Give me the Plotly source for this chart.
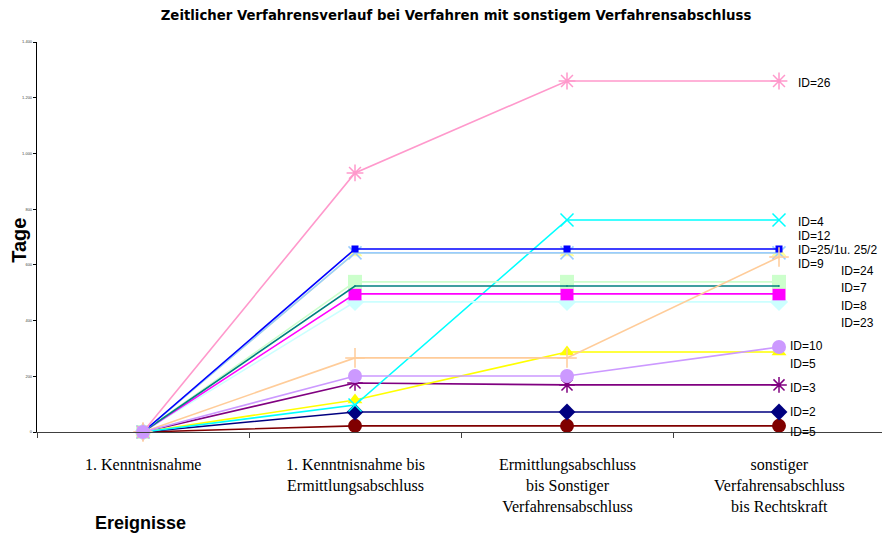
import plotly.graph_objects as go

categories = ["1. Kenntnisnahme",
              "1. Kenntnisnahme bis<br>Ermittlungsabschluss",
              "Ermittlungsabschluss<br>bis Sonstiger<br>Verfahrensabschluss",
              "sonstiger<br>Verfahrensabschluss<br>bis Rechtskraft"]

# series values (Tage)
id26 = [0, 930, 1260, 1260]
id4 = [0, 97, 761, 761]
id12 = [0, 657, 657, 657]
id25_1 = [0, 643, 643, 643]
id25_2 = [0, 643, 643, 643]
id9 = [0, 266, 266, 628]
id24 = [0, 539, 539, 539]
id7 = [0, 524, 524, 524]
id8 = [0, 496, 496, 496]
id23 = [0, 467, 467, 467]
id10 = [0, 201, 201, 305]
id5a = [0, 115, 287, 287]
id3 = [0, 176, 169, 169]
id2 = [0, 72, 72, 72]
id5b = [0, 22, 22, 22]

y_ticks = [0, 200, 400, 600, 800, 1000, 1200, 1400]
y_tick_labels = ["0", "200", "400", "600", "800", "1.000", "1.200", "1.400"]

# (values, color, symbol, size)
series = [
    (id5b, "#800000", "circle", 14),
    (id2, "#000080", "diamond", 13),
    (id3, "#800080", "asterisk-open", 13),
    (id5a, "#FFFF00", "triangle-up", 13),
    (id4, "#00FFFF", "x-thin-open", 13),
    (id23, "#CCFFFF", "diamond", 14),
    (id8, "#FF00FF", "square", 13),
    (id24, "#CCFFCC", "square", 14),
    (id7, "#008080", "line-ns-open", 1),
    (id25_2, "#FFFF99", "triangle-up", 13),
    (id25_1, "#99CCFF", "x-thin-open", 13),
    (id12, "#0000FF", "square", 7),
    (id26, "#FF99CC", "asterisk-open", 14),
    (id9, "#FFCC99", "cross-thin-open", 14),
    (id10, "#CC99FF", "circle", 14),
]

fig = go.Figure()
for vals, col, sym, sz in series:
    open_sym = sym.endswith("open")
    fig.add_trace(go.Scatter(
        x=[0, 1, 2, 3], y=vals, mode="lines+markers",
        line=dict(color=col, width=1.6),
        marker=dict(symbol=sym, size=sz, color=col,
                    line=dict(color=col, width=1.5 if open_sym else 0)),
        showlegend=False, cliponaxis=False))

# labels at right
label_texts = ["ID=26", "ID=4", "ID=12", "ID=25/1u. 25/2", "ID=9", "ID=24", "ID=7",
               "ID=8", "ID=23", "ID=10", "ID=5", "ID=3", "ID=2", "ID=5"]
label_y = [1253, 754, 704, 653, 603, 578, 517, 452, 391, 309, 244, 158, 72, 0]
label_xshift = [17, 17, 17, 17, 17, 60, 60, 60, 60, 9, 9, 9, 9, 9]
for t, yv, xs in zip(label_texts, label_y, label_xshift):
    fig.add_annotation(x=3, y=yv, xref="x", yref="y", text=t, showarrow=False,
                       xanchor="left", yanchor="middle", xshift=xs,
                       font=dict(family="Liberation Sans, Arial", size=12, color="black"))

# category labels
for i, c in enumerate(categories):
    fig.add_annotation(x=i, y=0, xref="x", yref="paper", text=c, showarrow=False,
                       yanchor="top", yshift=-22, align="center",
                       font=dict(family="Liberation Serif, Times New Roman", size=16, color="black"))

fig.add_annotation(x=0.1215, y=-0.233, xref="paper", yref="paper", text="<b>Ereignisse</b>",
                   showarrow=False, xanchor="center", yanchor="middle",
                   font=dict(family="Liberation Sans, Arial", size=18, color="black"))
fig.add_annotation(x=-0.0205, y=0.492, xref="paper", yref="paper", text="<b>Tage</b>",
                   showarrow=False, xanchor="center", yanchor="middle", textangle=-90,
                   font=dict(family="Liberation Sans, Arial", size=20, color="black"))

# page body has an 8px margin, so the figure is 8px smaller than the window
fig.update_layout(
    width=882, height=529,
    margin=dict(l=29, r=5, t=34, b=105),
    paper_bgcolor="white", plot_bgcolor="white",
    title=dict(text="<b>Zeitlicher Verfahrensverlauf bei Verfahren mit sonstigem Verfahrensabschluss</b>",
               x=0.508, xanchor="center", y=0.987, yanchor="middle",
               font=dict(family="DejaVu Sans, Verdana", size=13.3, color="black")),
    xaxis=dict(range=[-0.5, 3.5], tickmode="array", tickvals=[-0.5, 0.5, 1.5, 2.5, 3.5],
               ticktext=["", "", "", "", ""], ticks="outside", ticklen=5, tickcolor="#404040",
               showline=True, linecolor="#404040", linewidth=1.3, showgrid=False, zeroline=False,
               automargin=False),
    yaxis=dict(range=[0, 1400], tickmode="array", tickvals=y_ticks, ticktext=y_tick_labels,
               ticks="outside", ticklen=3, tickcolor="black",
               tickfont=dict(family="Liberation Sans, Arial", size=4, color="#444444"),
               showline=True, linecolor="black", linewidth=1.2, showgrid=False, zeroline=False,
               automargin=False),
)

fig.write_html("out.html")
